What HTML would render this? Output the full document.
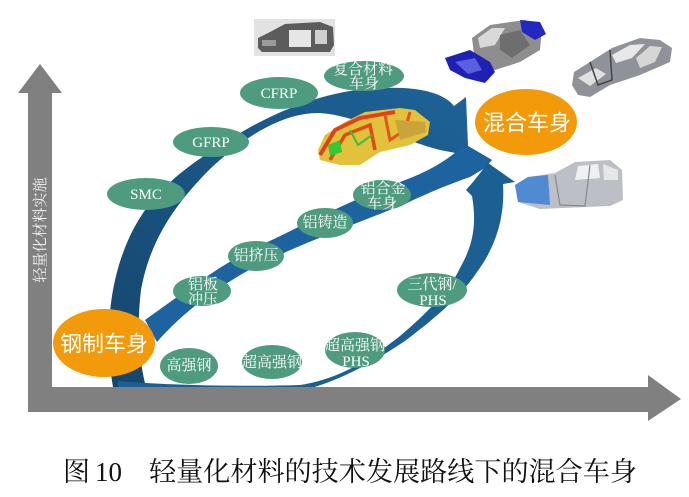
<!DOCTYPE html>
<html><head><meta charset="utf-8"><style>
html,body{margin:0;padding:0;background:#fff;}
svg{display:block;}
.l{font-family:"Liberation Serif","Noto Serif CJK SC",serif;font-size:15px;fill:#fff;}
.big{font-family:"Liberation Sans","Noto Sans CJK SC",sans-serif;font-size:22px;fill:#fff;}
.cap{font-family:"Liberation Serif","Noto Serif CJK SC",serif;font-size:27px;fill:#111;}
</style></head><body>
<svg width="689" height="497" viewBox="0 0 689 497" xmlns="http://www.w3.org/2000/svg">
<defs>
<linearGradient id="g1" x1="0" y1="1" x2="1" y2="0">
<stop offset="0" stop-color="#15466d"/><stop offset="1" stop-color="#1e6399"/>
</linearGradient>
</defs>
<rect width="689" height="497" fill="#fff"/>

<!-- outer band -->
<path d="M113 387 C103 330,110 262,143 213 C160 188,185 168,210 152 C245 128,295 100,350 91 C400 84,440 88,454 106 L466 97 L468 146 L492 160 L440 150 C400 140,360 116,320 113 C285 112,245 135,207 172 C175 205,150 240,141 290 C136 330,140 365,146 387 Z" fill="url(#g1)"/>
<!-- middle band -->
<path d="M145 320 C180 295,220 265,255 248 C300 227,350 200,400 182 C425 173,445 162,458 150 L468 146 L492 160 L485 168 L470 177 C450 184,430 192,405 204 C360 222,310 240,262 263 C220 285,185 310,157 342 Z" fill="#1d63a0"/>
<!-- lower band -->
<path d="M118 381 C160 385,240 387,300 385 C340 379,372 358,400 336 C425 315,450 290,460 268 C470 250,478 230,472 196 L466 190 L473 182 L488 163 L515 182 L503 184 C505 215,497 245,477 272 C460 298,430 322,405 341 C372 363,338 382,300 391 L118 391 Z" fill="#1b5f93"/>

<!-- axes -->
<rect x="28" y="92" width="24" height="320" fill="#808080"/>
<polygon points="18,93 40,64 62,93" fill="#808080"/>
<rect x="28" y="387" width="621" height="25" fill="#808080"/>
<polygon points="648,375 681,399 648,421" fill="#808080"/>
<text transform="translate(45,230) rotate(-90)" text-anchor="middle" style="font-family:'Liberation Serif','Noto Serif CJK SC',serif;font-size:15px;fill:#f4f4f4">轻量化材料实施</text>

<!-- green ellipses -->
<g fill="#4e9b7f">
<ellipse cx="146" cy="194" rx="39" ry="16"/>
<ellipse cx="211" cy="142" rx="38" ry="15"/>
<ellipse cx="279" cy="93" rx="39" ry="16"/>
<ellipse cx="364" cy="76" rx="40" ry="15"/>
<ellipse cx="325" cy="223" rx="28" ry="15"/>
<ellipse cx="382" cy="195" rx="29" ry="15"/>
<ellipse cx="256" cy="256" rx="28" ry="15"/>
<ellipse cx="202" cy="291" rx="29" ry="15"/>
<ellipse cx="189" cy="366" rx="29" ry="18"/>
<ellipse cx="272" cy="362" rx="30" ry="17"/>
<ellipse cx="355" cy="350" rx="30" ry="18"/>
<ellipse cx="432" cy="290" rx="35" ry="17"/>
</g>
<g class="l" text-anchor="middle" dominant-baseline="central">
<text x="146" y="195">SMC</text>
<text x="211" y="143">GFRP</text>
<text x="279" y="94">CFRP</text>
<text x="363" y="70">复合材料</text>
<text x="364" y="84">车身</text>
<text x="325" y="223">铝铸造</text>
<text x="383" y="189">铝合金</text>
<text x="382" y="204">车身</text>
<text x="256" y="256">铝挤压</text>
<text x="203" y="285">铝板</text>
<text x="203" y="300">冲压</text>
<text x="189" y="366">高强钢</text>
<text x="272" y="363">超高强钢</text>
<text x="355" y="346">超高强钢</text>
<text x="356" y="362">PHS</text>
<text x="432" y="285">三代钢/</text>
<text x="433" y="301">PHS</text>
</g>

<!-- orange ellipses -->
<ellipse cx="104" cy="343" rx="51" ry="34" fill="#f29a0a"/>
<text class="big" x="104" y="344" text-anchor="middle" dominant-baseline="central">钢制车身</text>
<ellipse cx="526" cy="122" rx="51" ry="33" fill="#f29a0a"/>
<text class="big" x="527" y="123" text-anchor="middle" dominant-baseline="central">混合车身</text>

<!-- car 1: top gray photo -->
<rect x="254" y="19" width="81" height="37" fill="#e2e2e2"/>
<polygon points="258,48 258,38 270,32 285,24 320,22 333,27 334,45 330,52 262,52" fill="#5c5c5c"/>
<rect x="289" y="30" width="22" height="17" fill="#e6e6e6"/>
<rect x="315" y="30" width="12" height="14" fill="#cfcfcf"/>
<rect x="262" y="40" width="14" height="6" fill="#9a9a9a"/>

<!-- car 2: top center gray+blue -->
<polygon points="472,38 490,25 525,20 542,28 540,50 520,62 495,70 475,62" fill="#8e8e8e"/>
<polygon points="478,38 492,28 505,28 495,45 480,48" fill="#d9d9d9"/>
<polygon points="500,35 520,30 530,45 512,58 500,50" fill="#6e6e6e"/>
<polygon points="445,58 470,50 490,62 495,72 485,83 465,78 450,70" fill="#1d22b4"/>
<polygon points="520,20 540,22 546,34 535,40 522,32" fill="#2328c0"/>
<polygon points="455,62 475,58 482,70 468,74" fill="#5a5ee0"/>

<!-- car 3: right wireframe -->
<polygon points="574,72 590,62 612,48 640,38 660,40 672,48 670,62 640,75 610,85 590,97 578,95 572,85" fill="#8f9298"/>
<polygon points="612,55 630,45 645,44 632,58 616,63" fill="#e8e8e8"/>
<polygon points="636,58 650,46 662,47 655,62 640,68" fill="#d6d6d6"/>
<polygon points="578,78 596,68 606,74 590,86" fill="#e0e0e0"/>
<polyline points="590,62 598,85 612,80 610,50" fill="none" stroke="#444" stroke-width="1.5"/>

<!-- car 4: lower right silver/blue -->
<polygon points="515,185 528,177 555,173 575,162 610,160 622,170 623,200 610,206 540,209 518,202" fill="#bcc0c6"/>
<polygon points="515,185 528,177 548,175 550,205 518,202" fill="#4f8ad2"/>
<polygon points="578,166 598,164 600,178 575,180" fill="#eef0f2"/>
<polygon points="603,164 618,170 618,180 604,180" fill="#e4e6e8"/>
<polyline points="555,175 560,205 585,206 590,165" fill="none" stroke="#888" stroke-width="1.2"/>

<!-- car 5: orange/yellow -->
<polygon points="318,150 325,135 345,122 365,112 400,108 415,110 430,122 428,135 410,145 380,152 360,165 340,165 320,160" fill="#e1c23a"/>
<polyline points="320,155 335,130 360,118 395,112" fill="none" stroke="#e0401a" stroke-width="4"/>
<polyline points="330,160 345,135 370,125 375,150" fill="none" stroke="#e04a1a" stroke-width="3.5"/>
<polyline points="385,115 390,140 405,130 410,112" fill="none" stroke="#e05520" stroke-width="3"/>
<polygon points="328,145 340,140 342,152 330,156" fill="#35c832"/>
<polyline points="350,130 358,145 372,135" fill="none" stroke="#3ac040" stroke-width="2"/>
<polygon points="395,120 425,122 426,132 400,140" fill="#c9a43a"/>

<!-- caption -->
<text class="cap" x="63" y="481">图</text>
<text class="cap" x="95" y="481">10</text>
<text class="cap" x="149" y="481" textLength="488" lengthAdjust="spacingAndGlyphs">轻量化材料的技术发展路线下的混合车身</text>
</svg>
</body></html>
